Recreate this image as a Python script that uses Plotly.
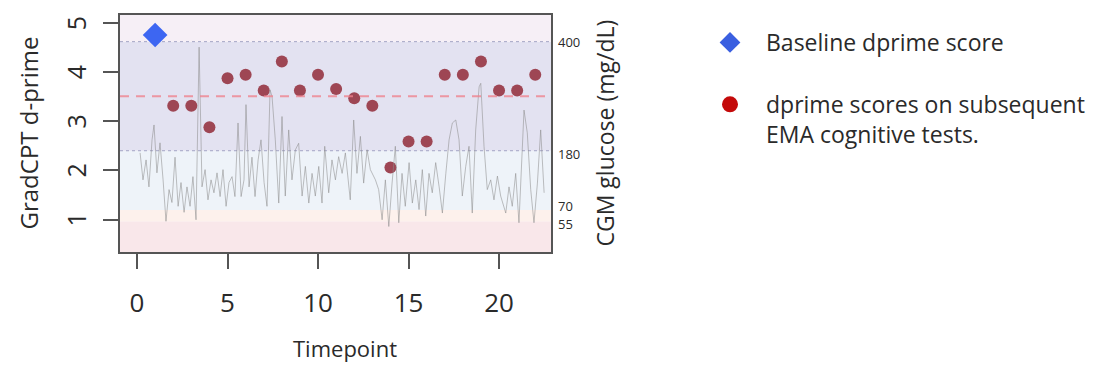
import numpy as np
import plotly.graph_objects as go

# ---------------- data ----------------
baseline_time = [1]
baseline_dprime = [4.76]

ema_time = list(range(2, 23))
ema_dprime = [3.32, 3.32, 2.88, 3.88, 3.95, 3.63, 4.22, 3.63, 3.95, 3.66, 3.47,
              3.32, 2.06, 2.59, 2.59, 3.95, 3.95, 4.22, 3.63, 3.63, 3.95]

cgm_time = [0.17, 0.33, 0.50, 0.66, 0.83, 0.94, 1.10, 1.27, 1.44, 1.60, 1.77, 1.93, 2.10, 2.27, 2.43,
            2.60, 2.76, 2.93, 3.09, 3.26, 3.43, 3.59, 3.76, 3.92, 4.09, 4.25, 4.42, 4.59, 4.75, 4.92,
            5.08, 5.25, 5.41, 5.58, 5.75, 5.91, 6.02, 6.19, 6.35, 6.52, 6.69, 6.85, 7.02, 7.18, 7.35,
            7.46, 7.64, 7.83, 8.01, 8.19, 8.38, 8.56, 8.75, 8.93, 9.12, 9.30, 9.49, 9.67, 9.85, 10.04,
            10.22, 10.37, 10.59, 10.77, 10.96, 11.14, 11.33, 11.51, 11.78, 11.97, 12.15, 12.34, 12.52,
            12.71, 12.89, 13.17, 13.35, 13.54, 13.72, 13.91, 14.09, 14.27, 14.46, 14.64, 14.82,
            15.03, 15.21, 15.40, 15.58, 15.76, 15.95, 16.13, 16.31, 16.50, 16.69, 16.87, 17.06, 17.24,
            17.42, 17.61, 17.79, 17.97, 18.16, 18.34, 18.52, 18.71, 18.90, 18.99, 19.17, 19.35, 19.54,
            19.72, 19.91, 20.09, 20.37, 20.55, 20.73, 20.92, 21.10, 21.38, 21.56, 21.75, 21.93, 22.12,
            22.30, 22.49]
cgm_glucose = [176, 126, 163, 113, 202, 232, 139, 196, 126, 55, 108, 84, 168, 77, 121,
               67, 113, 77, 132, 57, 389, 113, 145, 89, 126, 102, 139, 95, 145, 77,
               121, 132, 95, 236, 95, 126, 273, 113, 168, 95, 163, 202, 121, 77, 303,
               289, 202, 83, 249, 96, 222, 126, 182, 195, 96, 151, 83, 138, 96, 151,
               83, 189, 102, 163, 126, 169, 138, 176, 89, 242, 138, 209, 120,
               182, 145, 126, 108, 57, 126, 48, 120, 189, 53, 138, 77,
               158, 83, 126, 71, 145, 62, 138, 102, 158, 113, 66, 138, 202,
               236, 242, 202, 96, 151, 189, 66, 222, 309, 316, 189, 108, 126,
               89, 133, 96, 66, 113, 77, 138, 53, 262, 216, 108, 53, 120,
               222, 102]

glucose_thresholds = [55, 70, 180, 400]
glucose_labels = ["55", "70", "180", "400"]

x_ticks = [0, 5, 10, 15, 20]
y_ticks = [1, 2, 3, 4, 5]

# right-axis (glucose) scale: piecewise-linear, as drawn in the original figure
GLUCOSE_SCALE_IN = [0, 55, 70, 180, 400, 500]
GLUCOSE_SCALE_OUT = [0.129, 0.965, 1.193, 2.402, 4.624, 5.634]


def g2axis(g):
    return np.interp(g, GLUCOSE_SCALE_IN, GLUCOSE_SCALE_OUT)


Y_RANGE = [0.339, 5.167]
X_RANGE = [-0.94, 22.87]

FONT = "Open Sans"
TXT = "#2a2a2a"
AX = "#555555"

fig = go.Figure()

# CGM trace on secondary axis
fig.add_trace(go.Scatter(
    x=cgm_time, y=g2axis(np.array(cgm_glucose)), yaxis="y2", mode="lines",
    line=dict(color="rgba(140,140,140,0.55)", width=1), showlegend=False, hoverinfo="skip"))

# EMA scores
fig.add_trace(go.Scatter(
    x=ema_time, y=ema_dprime, mode="markers",
    marker=dict(symbol="circle", size=12, color="#9e4654"), showlegend=False))

# Baseline
fig.add_trace(go.Scatter(
    x=baseline_time, y=baseline_dprime, mode="markers",
    marker=dict(symbol="diamond", size=19, color="#3d66f2"), showlegend=False))

# legend entries
fig.add_trace(go.Scatter(
    x=[None], y=[None], mode="markers", name="Baseline dprime score", legendgroup="a",
    marker=dict(symbol="diamond", size=19, color="#3a5fe0")))
fig.add_trace(go.Scatter(
    x=[None], y=[None], mode="markers", name="dprime scores on subsequent<br>EMA cognitive tests.",
    legendgroup="b", marker=dict(symbol="circle", size=19, color="#c40a0a")))

# background glucose bands
edges = [Y_RANGE[0]] + list(g2axis(np.array(glucose_thresholds))) + [Y_RANGE[1]]
band_colors = ["#f9e7ea", "#fdf1ec", "#eef3f9", "#e3e2f1", "#f6eff6"]
shapes = []
for i, c in enumerate(band_colors):
    shapes.append(dict(type="rect", xref="paper", yref="y2", x0=0, x1=1,
                       y0=edges[i], y1=edges[i + 1], fillcolor=c, line=dict(width=0),
                       layer="below"))
for g in [180, 400]:
    shapes.append(dict(type="line", xref="paper", yref="y2", x0=0, x1=1,
                       y0=float(g2axis(g)), y1=float(g2axis(g)),
                       line=dict(color="#a3a4c4", width=1, dash="dot"), layer="below"))
mean_d = float(np.mean(ema_dprime))
shapes.append(dict(type="line", xref="paper", yref="y", x0=0, x1=1, y0=mean_d, y1=mean_d,
                   line=dict(color="rgba(240,128,140,0.78)", width=2, dash="9px,7px"),
                   layer="above"))

annotations = []
# left axis tick labels (rotated, as in the original)
for v in y_ticks:
    annotations.append(dict(x=0, xref="paper", y=v, yref="y", text=str(v), textangle=-90,
                            showarrow=False, xanchor="center", yanchor="middle", xshift=-44,
                            font=dict(family=FONT, size=25, color=TXT)))
for g, lab in zip(glucose_thresholds, glucose_labels):
    shift = {55: -3, 70: 4, 180: -3, 400: 0}[g]
    annotations.append(dict(x=1, xref="paper", y=float(g2axis(g)), yref="y2", text=lab,
                            showarrow=False, xanchor="left", yanchor="middle", xshift=5,
                            yshift=shift, font=dict(family=FONT, size=13, color=TXT)))
annotations.append(dict(x=-92 / 431, xref="paper", y=0.5, yref="paper", text="GradCPT d-prime",
                        textangle=-90, showarrow=False, xanchor="center", yanchor="middle",
                        font=dict(family=FONT, size=24, color=TXT)))
annotations.append(dict(x=(604 - 120) / 431, xref="paper", y=0.5, yref="paper",
                        text="CGM glucose (mg/dL)", textangle=-90, showarrow=False,
                        xanchor="center", yanchor="middle", font=dict(family=FONT, size=23, color=TXT)))
annotations.append(dict(x=(345 - 120) / 431, xref="paper", y=-(348 - 252) / 237, yref="paper",
                        text="Timepoint", showarrow=False, xanchor="center", yanchor="middle",
                        font=dict(family=FONT, size=22, color=TXT)))

fig.update_layout(
    width=1094, height=365, autosize=False,
    margin=dict(l=120, r=543, t=15, b=113, autoexpand=False),
    paper_bgcolor="white", plot_bgcolor="white",
    font=dict(family=FONT, color=TXT),
    shapes=shapes, annotations=annotations,
    xaxis=dict(range=X_RANGE, tickvals=x_ticks, ticks="outside", ticklen=15, tickwidth=2,
               tickcolor=AX, showline=True, linecolor=AX, linewidth=2, mirror=True,
               showgrid=False, zeroline=False, tickfont=dict(family=FONT, size=26, color=TXT),
               ticklabelstandoff=12, automargin=False),
    yaxis=dict(range=Y_RANGE, tickvals=y_ticks, ticks="outside", ticklen=15, showticklabels=False,
               tickwidth=2, tickcolor=AX, showline=True, linecolor=AX, linewidth=2, mirror=True,
               showgrid=False, zeroline=False, automargin=False),
    yaxis2=dict(range=Y_RANGE, overlaying="y", side="right", showticklabels=False,
                showline=False, showgrid=False, zeroline=False, ticks="", automargin=False),
    legend=dict(x=(694 - 120) / 431, y=(252 - 21) / 237, xanchor="left", yanchor="top",
                xref="paper", yref="paper", itemwidth=62, valign="top", tracegroupgap=29,
                font=dict(family=FONT, size=23, color=TXT), bgcolor="rgba(0,0,0,0)",
                itemsizing="trace"),
)

fig.write_html("out.html", config={"displayModeBar": False},
               post_script="document.body.style.margin='0px';")
